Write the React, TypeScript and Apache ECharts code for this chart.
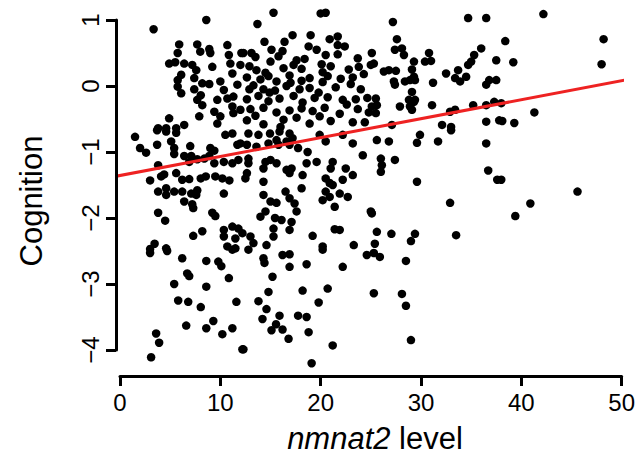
import React, { useEffect, useRef } from "react";
import * as echarts from "echarts";

// nmnat2 level (x) vs Cognition (y)
const pointsLow: [number, number][] = [
  [3.35, 0.86], [8.6, 1.0], [5.9, 0.63], [7.7, 0.63], [10.7, 0.62], [5.75, 0.5], [8.0, 0.52], [8.9, 0.56], [9.0, 0.5],
  [10.85, 0.47], [12.1, 0.5], [4.9, 0.34], [5.5, 0.36], [6.4, 0.34], [7.2, 0.32], [6.1, 0.17], [7.6, 0.24], [9.2, 0.29],
  [11.0, 0.34], [12.0, 0.32], [11.2, 0.19], [5.75, 0.09], [5.75, -0.01], [6.1, -0.11], [7.4, 0.12], [7.4, -0.05],
  [8.2, 0.04], [8.9, 0.03], [10.0, 0.07], [10.35, -0.06], [9.7, -0.21], [10.7, -0.19], [11.7, 0.02], [11.3, -0.16],
  [7.7, -0.21], [8.2, -0.29], [8.05, -0.14], [9.4, -0.39], [10.0, -0.46], [9.7, -0.57], [11.2, -0.31], [12.0, -0.36],
  [11.3, -0.41], [4.9, -0.49], [7.9, -0.46], [6.4, -0.59], [3.8, -0.64], [4.6, -0.64], [5.6, -0.64],
  [1.5, -0.77], [3.7, -0.67], [4.6, -0.69], [5.6, -0.71], [2.0, -0.94], [2.6, -1.01], [3.7, -0.89], [5.1, -0.84],
  [5.4, -0.94], [5.4, -1.03], [7.0, -0.91], [6.4, -1.06], [7.1, -1.06], [7.7, -1.11], [8.4, -1.1], [9.0, -0.94],
  [9.4, -0.98], [8.9, -1.06], [10.5, -0.74], [11.2, -0.72], [11.7, -0.89], [12.0, -0.87], [3.8, -1.2], [4.4, -1.34],
  [4.1, -1.37], [5.6, -1.32], [6.9, -1.15], [3.0, -1.43], [6.2, -1.42], [6.9, -1.41], [8.05, -1.4], [8.55, -1.37],
  [9.4, -1.17], [10.35, -1.15], [11.2, -1.17], [11.8, -1.12], [9.5, -1.37], [10.2, -1.4], [10.9, -1.43], [3.8, -1.6],
  [4.6, -1.55], [4.6, -1.65], [5.4, -1.6], [6.2, -1.6], [7.1, -1.63], [7.6, -1.65], [7.7, -1.58], [6.4, -1.75],
  [7.2, -1.79], [7.3, -1.85], [10.35, -1.63], [3.8, -1.92], [4.5, -2.04], [9.2, -1.92], [9.5, -1.97], [8.2, -2.2],
  [7.3, -2.27], [10.35, -2.18], [11.2, -2.13], [11.8, -2.16], [10.35, -2.28], [11.5, -2.31], [12.2, -2.23],
  [3.45, -2.39], [4.6, -2.46], [3.0, -2.47], [10.7, -2.43], [11.5, -2.46],
  [3.0, -2.53], [4.7, -2.5], [6.2, -2.61], [8.6, -2.65], [9.8, -2.66], [10.1, -2.73], [10.85, -2.91], [11.2, -2.48],
  [6.7, -2.84], [6.9, -2.88], [5.4, -3.0], [8.6, -3.04], [5.8, -3.25], [6.8, -3.27], [8.05, -3.35], [11.6, -3.27],
  [6.6, -3.63], [8.6, -3.67], [9.3, -3.56], [10.2, -3.76], [11.2, -3.67], [3.6, -3.75], [3.9, -3.89], [3.1, -4.11],
  [12.2, -3.99],
];

const pointsMid: [number, number][] = [
  [15.3, 1.11], [20.0, 1.1], [20.5, 1.11], [13.7, 0.94], [17.2, 0.77], [19.0, 0.77], [14.4, 0.67], [16.4, 0.67],
  [20.9, 0.71], [21.7, 0.75], [21.7, 0.62], [16.2, 0.53], [12.3, 0.5], [13.1, 0.5], [13.5, 0.44], [15.0, 0.37],
  [17.6, 0.39], [18.4, 0.41], [20.5, 0.47], [21.7, 0.48], [23.7, 0.42],
  [13.6, 0.24], [14.5, 0.2], [16.3, 0.27], [17.3, 0.32], [18.1, 0.26], [20.1, 0.33], [20.2, 0.21], [22.8, 0.25],
  [23.8, 0.29], [25.0, 0.32], [12.65, 0.13], [14.0, 0.1], [14.8, 0.15], [15.6, 0.07], [16.9, 0.16], [18.1, 0.08],
  [18.9, 0.12], [20.7, 0.15], [22.0, 0.11], [23.2, 0.13], [24.3, 0.18], [13.3, 0.01], [14.3, -0.05], [15.45, -0.07],
  [16.6, 0.0], [17.9, -0.05], [18.9, -0.03], [20.2, 0.06], [21.5, -0.02], [23.0, 0.03],
  [12.65, -0.2], [13.8, -0.15], [14.8, -0.23], [15.9, -0.19], [17.3, -0.15], [18.2, -0.25], [19.4, -0.18],
  [20.7, -0.17], [22.2, -0.21], [23.5, -0.2], [24.65, -0.18], [13.0, -0.35], [14.3, -0.33], [15.6, -0.4],
  [16.9, -0.37], [18.1, -0.34], [19.2, -0.38], [20.4, -0.33], [21.9, -0.42], [23.7, -0.35], [24.8, -0.4],
  [12.65, -0.52], [14.3, -0.58], [16.3, -0.51], [18.9, -0.57], [21.0, -0.53], [23.2, -0.55],
  [12.9, 0.3], [15.8, 0.45], [19.6, 0.55], [22.4, 0.6], [14.9, -0.1], [17.0, 0.05], [19.8, -0.1], [21.0, 0.3],
  [13.5, -0.45], [16.0, -0.62], [17.6, -0.48], [19.9, -0.46], [22.6, -0.28], [24.0, -0.05], [24.4, -0.55],
  [15.1, 0.55], [18.8, 0.6], [12.9, -0.05],
  [12.8, -0.72], [13.8, -0.74], [14.95, -0.72], [15.9, -0.69], [16.9, -0.72], [17.2, -0.79], [15.6, -0.82],
  [16.6, -0.84], [19.9, -0.74], [20.5, -0.84], [22.2, -0.74], [23.2, -0.87], [24.2, -1.05], [12.65, -0.89],
  [13.6, -0.92], [14.8, -0.87], [15.8, -0.89], [16.9, -0.89], [17.75, -0.94], [18.7, -1.0], [12.8, -1.1],
  [12.8, -1.17], [14.5, -1.15], [15.0, -1.12], [15.6, -1.17], [18.6, -1.17], [19.6, -1.15], [21.2, -1.15],
  [21.0, -1.25], [20.5, -1.4], [20.9, -1.47], [22.5, -1.25], [23.2, -1.35], [12.65, -1.32], [12.5, -1.4],
  [14.3, -1.25], [16.6, -1.27], [17.1, -1.25], [18.2, -1.35], [16.9, -1.32], [14.3, -1.45], [18.1, -1.55],
  [21.2, -1.5], [22.2, -1.42], [21.9, -1.63], [22.7, -1.68], [20.5, -1.6], [20.9, -1.68], [16.5, -1.6],
  [14.3, -1.65], [16.9, -1.7], [17.4, -1.78], [15.0, -1.75], [15.6, -1.77], [20.2, -1.73], [21.4, -1.83],
  [17.6, -1.9], [14.5, -1.9], [14.0, -1.98], [15.45, -2.0], [16.1, -2.03], [17.1, -2.06], [15.3, -2.16],
  [16.9, -2.18], [15.3, -2.28], [13.0, -2.28], [13.3, -2.38], [14.6, -2.41], [19.2, -2.27], [21.4, -2.17],
  [21.9, -2.18], [20.2, -2.43], [23.3, -2.41], [25.0, -1.9],
  [12.8, -2.48], [14.3, -2.61], [14.4, -2.68], [16.2, -2.56], [16.9, -2.55], [16.9, -2.74], [18.6, -2.7],
  [20.2, -2.48], [22.2, -2.74], [24.6, -2.56], [15.2, -2.89], [14.8, -3.12], [18.2, -3.1], [20.7, -3.07],
  [13.8, -3.26], [14.6, -3.38], [19.8, -3.28], [14.2, -3.53], [15.9, -3.48], [17.75, -3.48], [18.6, -3.5],
  [15.1, -3.7], [15.55, -3.61], [16.2, -3.69], [18.8, -3.73], [16.8, -3.83], [12.3, -3.99], [21.2, -3.93],
  [19.1, -4.2],
];

const pointsHigh: [number, number][] = [
  [27.2, 0.97], [34.7, 1.03], [36.5, 1.03], [27.6, 0.71], [27.4, 0.55], [28.1, 0.57], [28.3, 0.47], [30.8, 0.5],
  [30.4, 0.37], [31.0, 0.38], [29.3, 0.37], [25.1, 0.5], [25.3, 0.34], [26.3, 0.22], [26.8, 0.24], [27.5, 0.23],
  [29.1, 0.25], [29.3, 0.14], [28.4, 0.07], [28.9, 0.09], [29.4, 0.09], [27.3, 0.07], [27.4, 0.02], [31.2, 0.05],
  [32.5, 0.19], [33.7, 0.24], [33.4, 0.12], [33.9, 0.07], [34.5, 0.14], [36.0, 0.57], [35.3, 0.47], [35.0, 0.37],
  [34.7, 0.32], [37.5, 0.39], [36.8, 0.09], [36.5, 0.02], [37.5, 0.09], [29.1, -0.09], [25.5, -0.19], [25.6, -0.29],
  [25.1, -0.31], [25.5, -0.41], [28.8, -0.21], [29.3, -0.24], [29.4, -0.21], [28.9, -0.31], [29.1, -0.36],
  [27.9, -0.31], [31.1, -0.29], [32.9, -0.39], [33.4, -0.36], [35.2, -0.29], [36.5, -0.29], [37.3, -0.24],
  [27.1, -0.59], [32.1, -0.59], [33.0, -0.62], [36.5, -0.54], [37.8, -0.52],
  [42.2, 1.09], [38.4, 0.68], [48.2, 0.71], [39.2, 0.36], [48.0, 0.33], [38.0, -0.26], [41.3, -0.4], [38.1, -0.53],
  [39.3, -0.56],
  [25.6, -0.82], [26.8, -0.84], [29.9, -0.74], [29.6, -0.86], [31.7, -0.84], [33.0, -0.67], [36.5, -0.87],
  [26.0, -1.1], [26.1, -1.2], [26.0, -1.3], [27.4, -1.12], [29.6, -1.45], [36.7, -1.28], [37.6, -1.42],
  [32.9, -1.77], [25.1, -1.93], [25.6, -2.21], [27.05, -2.24], [29.4, -2.24], [29.0, -2.35], [25.4, -2.39],
  [33.5, -2.26], [38.0, -1.42], [45.6, -1.6], [40.9, -1.78], [39.4, -1.97],
  [25.3, -2.53], [25.9, -2.59], [28.5, -2.65], [25.3, -3.14], [28.1, -3.15], [28.5, -3.33], [29.0, -3.85],
];

// fitted regression line
const fitIntercept = -1.356;
const fitSlope = 0.0287;
const fitRange = [-0.3, 50.3];

const xTicks = { min: 0, max: 50, interval: 10 };
const yTicks = { min: -4, max: 1, interval: 1 };

const FONT = "'Liberation Sans', Arial, Helvetica, sans-serif";

export default function App() {
  const ref = useRef<HTMLDivElement>(null);
  useEffect(() => {
    document.body.style.margin = "0";
    if (!ref.current) return;
    const chart = echarts.init(ref.current, undefined, { renderer: "svg" });
    const allPoints = [...pointsLow, ...pointsMid, ...pointsHigh];
    const fitLine = fitRange.map((x) => [x, fitIntercept + fitSlope * x]);
    chart.setOption({
      animation: false,
      backgroundColor: "#ffffff",
      grid: { left: 120, right: 11, top: 20, bottom: 111, containLabel: false },
      xAxis: {
        type: "value",
        min: xTicks.min,
        max: xTicks.max,
        interval: xTicks.interval,
        offset: 26,
        splitLine: { show: false },
        axisLine: { show: true, onZero: false, lineStyle: { color: "#000", width: 3 } },
        axisTick: { show: true, length: 10, lineStyle: { color: "#000", width: 3 } },
        axisLabel: { color: "#000", fontSize: 24, fontFamily: FONT, margin: 14 },
      },
      yAxis: {
        type: "value",
        min: yTicks.min,
        max: yTicks.max,
        interval: yTicks.interval,
        offset: 4,
        splitLine: { show: false },
        axisLine: { show: true, onZero: false, lineStyle: { color: "#000", width: 3 } },
        axisTick: { show: true, length: 10, lineStyle: { color: "#000", width: 3 } },
        axisLabel: {
          color: "#000",
          fontSize: 24,
          fontFamily: FONT,
          rotate: 90,
          margin: 14,
          formatter: (v: number) => (v < 0 ? "\u2212" + Math.abs(v) : String(v)),
        },
      },
      graphic: [
        {
          type: "text",
          x: 31,
          y: 201,
          rotation: Math.PI / 2,
          style: {
            text: "Cognition",
            fontSize: 31,
            fontFamily: FONT,
            fill: "#000",
            align: "center",
            verticalAlign: "middle",
          },
        },
        {
          type: "text",
          x: 375,
          y: 438,
          style: {
            text: "{i|nmnat2} level",
            fontSize: 31,
            fontFamily: FONT,
            fill: "#000",
            align: "center",
            verticalAlign: "middle",
            rich: {
              i: { fontStyle: "italic", fontSize: 31, fontFamily: FONT, fill: "#000" },
            },
          },
        },
      ],
      series: [
        {
          type: "scatter",
          data: allPoints,
          symbol: "circle",
          symbolSize: 8.5,
          clip: false,
          itemStyle: { color: "#000", opacity: 1 },
          z: 2,
        },
        {
          type: "line",
          data: fitLine,
          showSymbol: false,
          clip: false,
          lineStyle: { color: "#ee2222", width: 3 },
          z: 3,
        },
      ],
    });
    return () => chart.dispose();
  }, []);
  return <div ref={ref} style={{ width: 638, height: 461 }} />;
}
